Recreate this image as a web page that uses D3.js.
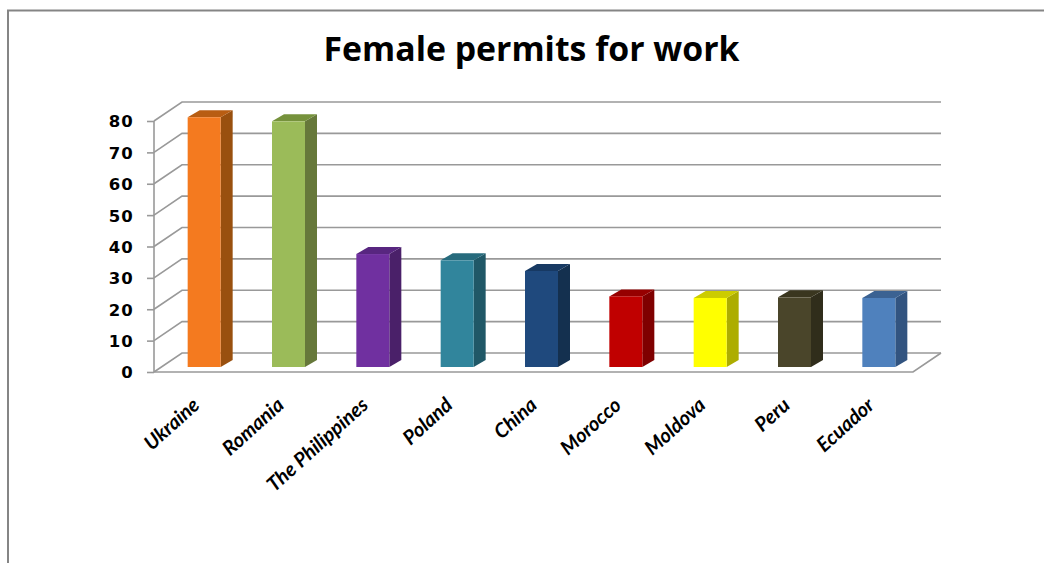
<!DOCTYPE html>
<html><head><meta charset="utf-8">
<script src="https://cdnjs.cloudflare.com/ajax/libs/d3/7.8.5/d3.min.js"></script>
<style>html,body{margin:0;padding:0;background:#fff}svg{display:block}</style>
</head><body><svg id="c" width="1044" height="563"></svg>
<script>
const titleText = "Female permits for work";
const categories = ["Ukraine","Romania","The Philippines","Poland","China","Morocco","Moldova","Peru","Ecuador"];
const values = [79.6,78.3,36,34,30.6,22.5,22,22.2,22];
const frontColors = ["#f47a1f","#9bbb59","#7030a0","#31859c","#1f497d","#c00000","#ffff00","#4a452a","#4f81bd"];
const sideColors = ["#99500f","#66783a","#4a2069","#205867","#14304f","#7f0000","#adad00","#302d1b","#325480"];
const topColors = ["#b85d12","#76923c","#582680","#276b7d","#183a63","#960000","#cccc00","#3a361f","#3b6292"];
const tickValues = [0,10,20,30,40,50,60,70,80];

const W = 1044, H = 563;
const depthX = 28, depthY = 19;       // floor depth
const barDX = 12, barDY = 7;          // bar depth
const svg = d3.select("#c");
const y = d3.scaleLinear().domain([0,80]).range([372,121]);
const x = d3.scaleBand().domain(categories).range([162,921]);
const barW = 33, floorL = 154, floorR = 913, baseY = 367;
const barH = v => y(0) - y(v);
const gray = "#999";

// outer frame
svg.append("path").attr("d",`M8,${H}V10.5H${W}`).attr("fill","none").attr("stroke","#858585").attr("stroke-width",2);

svg.append("text").attr("x",531.5).attr("y",61).attr("text-anchor","middle")
  .attr("font-family","'Open Sans'").attr("font-weight",700).attr("font-size",33.8).attr("fill","#000").text(titleText);

// gridlines: back wall and slanted side wall
const grid = svg.append("g").attr("fill","none").attr("stroke",gray).attr("stroke-width",1.6);
tickValues.forEach(t=>{
  const yy = y(t);
  grid.append("path").attr("d",`M${floorL},${yy}L${floorL+depthX},${yy-depthY}H${floorR+depthX}`);
});
// floor
grid.append("path").attr("d",`M${floorL},${y(0)}H${floorR}L${floorR+depthX},${y(0)-depthY}`);
// vertical value axis
grid.append("path").attr("d",`M${floorL},${y(80)}V${y(0)}`);

// value axis with D3
const axis = d3.axisLeft(y).tickValues(tickValues).tickSize(7).tickPadding(13);
const ga = svg.append("g").attr("transform",`translate(${floorL},0)`).call(axis);
ga.select(".domain").remove();
ga.selectAll("line").attr("stroke",gray).attr("stroke-width",1.6);
ga.selectAll("text").attr("font-family","'DejaVu Sans'").attr("font-weight",700).attr("font-size",16.5).attr("letter-spacing",1.2).attr("fill","#000").attr("dy","0.36em");

// bars
const bars = svg.append("g").selectAll("g").data(categories).join("g")
  .attr("transform",d=>`translate(${x(d)+x.bandwidth()/2-barW/2},${baseY})`);
bars.append("path").attr("fill",(d,i)=>sideColors[i])
  .attr("d",(d,i)=>{const h=barH(values[i]);return `M${barW},0V${-h}l${barDX},${-barDY}V${-barDY}Z`;});
bars.append("path").attr("fill",(d,i)=>topColors[i])
  .attr("d",(d,i)=>{const h=barH(values[i]);return `M0,${-h}H${barW}l${barDX},${-barDY}H${barDX}Z`;});
bars.append("rect").attr("fill",(d,i)=>frontColors[i])
  .attr("width",barW).attr("y",(d,i)=>-barH(values[i])).attr("height",(d,i)=>barH(values[i]));

// category labels, rotated
svg.append("g").selectAll("text").data(categories).join("text")
  .attr("text-anchor","end")
  .attr("transform",d=>`translate(${x(d)+x.bandwidth()/2-14},${395}) rotate(-42)`)
  .attr("dy","0.8em")
  .attr("font-family","Lato").attr("font-weight",700).attr("font-style","italic").attr("font-size",20).attr("fill","#000")
  .text(d=>d);
</script></body></html>
